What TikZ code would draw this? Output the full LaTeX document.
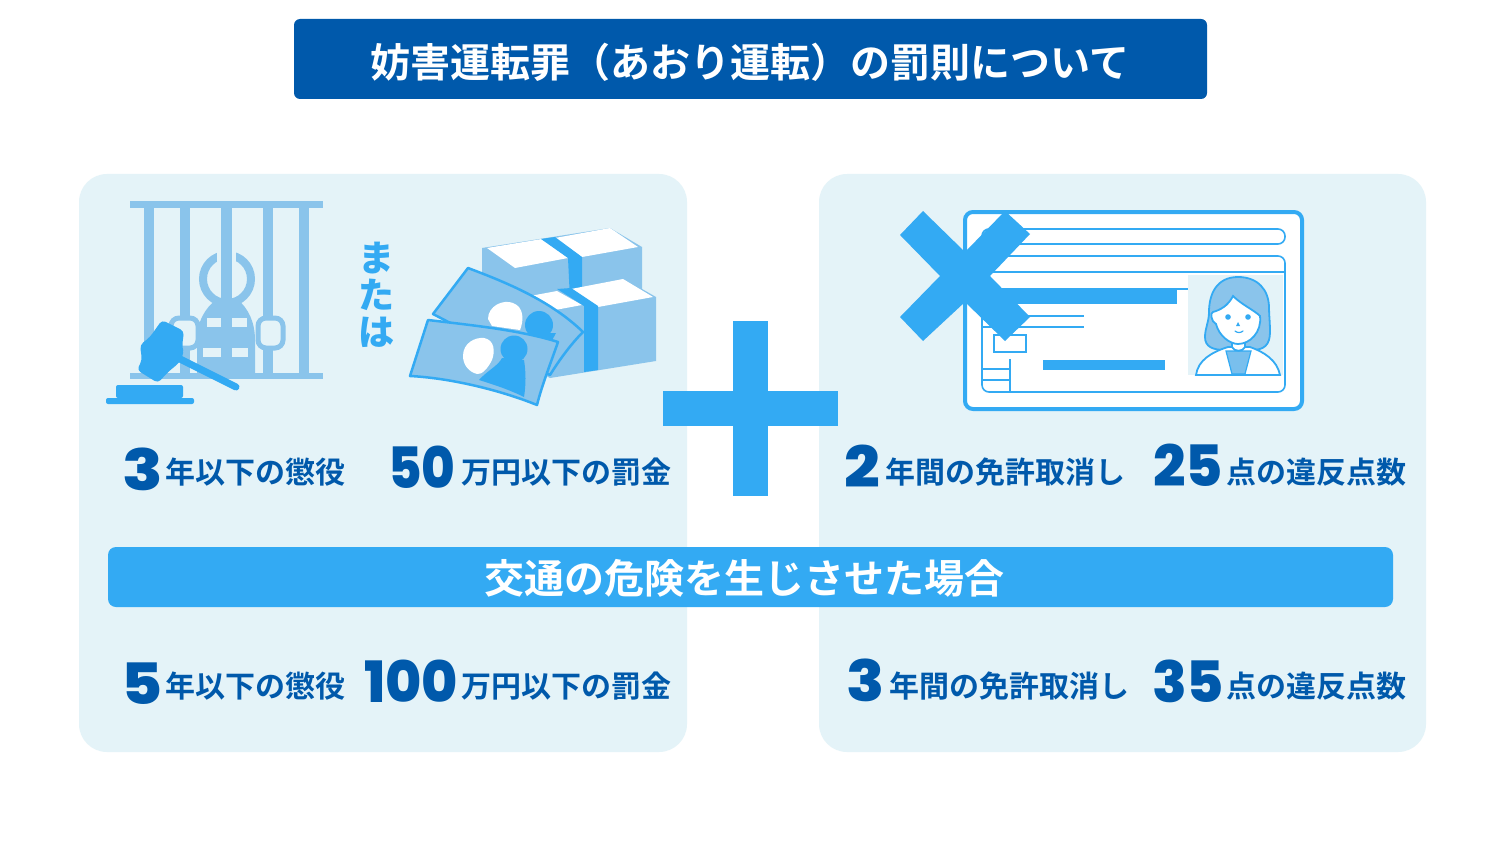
\documentclass[tikz,border=0pt]{standalone}
\usepackage{fontspec}
\newfontfamily\cjk{Noto Sans CJK JP}[BoldFont={Noto Sans CJK JP Bold}]
\newfontfamily\cjkheavy{Noto Sans CJK JP Black}
\newfontfamily\numfont{Poppins}[BoldFont={Poppins ExtraBold}]
\definecolor{navy}{HTML}{0059AB}
\definecolor{sky}{HTML}{33AAF3}
\definecolor{pale}{HTML}{8AC4EB}
\definecolor{panel}{HTML}{E4F3F8}
\newcommand{\widenum}[2]{\scalebox{#1}[1]{#2}}
\tikzset{
	label/.style={inner sep=0,anchor=base west,text=navy,font=\cjk\bfseries\fontsize{30}{30}\selectfont},
	num/.style={inner sep=0,anchor=base west,text=navy,font=\numfont\bfseries\fontsize{57}{57}\selectfont},
	head/.style={inner sep=0,text=white,font=\cjk\bfseries\fontsize{40}{40}\selectfont},
	vert/.style={inner sep=0,text=sky,font=\cjkheavy\fontsize{36}{36}\selectfont},
	thin line/.style={draw=sky,line width=1.6}
}
\begin{document}
\begin{tikzpicture}[x=1pt,y=-1pt]
\useasboundingbox (0,0) rectangle (1501,845);
\fill[white] (0,0) rectangle (1501,845);
\fill[navy,rounded corners=6] (294,19) rectangle (1207,99);
\node[head] (title) at (750,62) {妨害運転罪（あおり運転）の罰則について};
\fill[panel,rounded corners=28] (79,174) rectangle (687,752);
\fill[panel,rounded corners=28] (819,174) rectangle (1426,752);
\fill[sky] (733,321) rectangle (768,496);
\fill[sky] (663,391) rectangle (838,426);
\fill[sky,rounded corners=8] (108,547) rectangle (1393,607);
\node[head] (band) at (744,578) {交通の危険を生じさせた場合};
% jail
\fill[pale] (130,201) rectangle (323,208);
\fill[pale] (130,373) rectangle (323,379);
\foreach \barx in {144,180,263,299}
	\fill[pale] (\barx,201) rectangle (\barx+10,379);
\draw[pale,line width=8] (227,279) circle (24);
\fill[pale] (216,300) .. controls (205,308) and (197,322) .. (197,340) -- (197,373) -- (255,373) -- (255,340)
	.. controls (255,322) and (248,308) .. (238,300) -- cycle;
\fill[panel] (207,318) rectangle (247,327);
\fill[panel] (203,348) rectangle (248,357);
\draw[pale,line width=5,fill=panel,rounded corners=8] (171,318) rectangle (198,348);
\draw[pale,line width=5,fill=panel,rounded corners=8] (258,318) rectangle (283,348);
\fill[panel] (217,240) rectangle (236,262);
\fill[pale] (221,201) rectangle (232,379);
% gavel
\fill[sky,rounded corners=2] (106,398) rectangle (194,404);
\fill[sky,rounded corners=2] (116,385) rectangle (183,398);
\draw[sky,line width=7,line cap=round] (178,358) -- (236,387);
\fill[sky,rounded corners=4] (162,320) -- (184,331) -- (182,347) -- (184,353) -- (179,363) -- (168,372)
	-- (158,383) -- (137,370) -- (142,360) -- (140,345) -- (150,337) -- cycle;
% money
\fill[pale] (482,248) -- (610,228) -- (642,247) -- (642,320) -- (482,340) -- cycle;
\fill[white] (487,248) -- (542,239) -- (568,258) -- (515,268) -- cycle;
\fill[white] (555,238) -- (610,228) -- (638,247) -- (582,257) -- cycle;
\fill[sky] (541,239) -- (555,237) -- (582,257) -- (582,300) -- (570,300) -- (568,258) -- cycle;
\fill[pale] (530,300) -- (623,278) -- (656,297) -- (656,361) -- (550,378) -- (500,350) -- cycle;
\fill[white] (530,296) -- (557,291) -- (582,305) -- (555,310) -- cycle;
\fill[white] (571,289) -- (623,279) -- (653,297) -- (598,307) -- cycle;
\fill[sky] (557,289) -- (571,288) -- (598,306) -- (598,370) -- (584,372) -- (584,306) -- cycle;
\draw[sky,line width=2.5,fill=pale,line join=round] (468,268) .. controls (505,282) and (550,300) .. (583,332)
	.. controls (570,345) and (558,362) .. (550,375) -- (433,314) -- cycle;
\fill[white] (488,319) .. controls (488,306) and (503,299) .. (513,303) .. controls (524,307) and (524,320) .. (520,330)
	-- (492,326) -- cycle;
\fill[sky] (539,325) circle (14);
\fill[sky] (518,334) -- (556,333) -- (548,348) -- (525,345) -- cycle;
\draw[sky,line width=2.5,fill=pale,line join=round] (428,320) .. controls (470,325) and (520,330) .. (558,342)
	.. controls (550,365) and (542,385) .. (537,405) .. controls (500,390) and (450,378) .. (410,376) -- cycle;
\fill[white] (463,356) .. controls (463,343) and (475,337) .. (484,338) .. controls (495,340) and (495,352) .. (492,360)
	.. controls (488,368) and (482,375) .. (477,374) .. controls (469,372) and (463,365) .. (463,356) -- cycle;
\fill[sky] (514,349) circle (13.5);
\fill[sky] (479,380) .. controls (488,370) and (498,366) .. (502,358) -- (524,360)
	.. controls (526,372) and (526,385) .. (524,397) .. controls (510,390) and (495,385) .. (479,380) -- cycle;
\node[vert] (mata) at (376,258) {ま};
\node[vert] (ta) at (376,295) {た};
\node[vert] (ha) at (376,332) {は};
% card
\draw[sky,line width=4,fill=white,rounded corners=8] (965,212) rectangle (1302,409);
\draw[thin line,rounded corners=7] (982,229) rectangle (1285,244);
\draw[thin line,rounded corners=7] (982,256) rectangle (1285,392);
\draw[thin line] (982,272) -- (1285,272);
\fill[panel] (1188,275) rectangle (1283,375);
\fill[sky] (982,288) rectangle (1177,304);
\draw[thin line] (1177,289) -- (1188,289);
\draw[sky,line width=2.2] (982,316) -- (1084,316);
\draw[sky,line width=2.2] (982,327) -- (1084,327);
\draw[thin line] (994,335) rectangle (1026,352);
\fill[sky] (1043,360) rectangle (1165,370);
\draw[thin line] (1010,359) -- (1010,392);
\draw[thin line] (982,369) -- (1010,369);
\draw[thin line] (982,380) -- (1010,380);
% face
\draw[sky,line width=1.8,fill=pale] (1238,277) .. controls (1216,277) and (1209,295) .. (1209,312)
	.. controls (1209,322) and (1205,328) .. (1205,337) .. controls (1205,347) and (1213,350) .. (1225,350)
	-- (1252,350) .. controls (1264,350) and (1270,345) .. (1270,332)
	.. controls (1270,322) and (1269,315) .. (1269,308) .. controls (1269,290) and (1258,277) .. (1238,277) -- cycle;
\draw[sky,line width=1.8,fill=white] (1196,375) .. controls (1198,360) and (1212,352) .. (1228,347)
	-- (1250,347) .. controls (1264,352) and (1277,360) .. (1280,375) -- cycle;
\draw[sky,line width=1.2,fill=pale!80!sky] (1226,351) -- (1251,351) -- (1245,374) -- (1232,374) -- cycle;
\draw[sky,line width=1.8,fill=white] (1232,338) -- (1232,347) .. controls (1234,352) and (1243,352) .. (1245,347) -- (1245,338);
\draw[sky,line width=1.8,fill=white] (1233,296) .. controls (1228,306) and (1220,310) .. (1213,312)
	.. controls (1210,312) and (1211,322) .. (1216,324)
	.. controls (1219,336) and (1230,344) .. (1238,344)
	.. controls (1250,344) and (1262,332) .. (1260,316)
	.. controls (1254,310) and (1242,305) .. (1233,296) -- cycle;
\fill[sky] (1228,317) circle (2.8);
\fill[sky] (1248,317) circle (2.8);
\fill[sky] (1238,322) -- (1240,326) -- (1236,326) -- cycle;
\draw[sky,line width=1.2,line cap=round] (1235,331) .. controls (1237,333) and (1241,333) .. (1243,331);
\fill[sky] (923,211) -- (965,252) -- (1005,211) -- (1030,234) -- (990,276) -- (1030,317) -- (1005,341)
	-- (965,302) -- (923,341) -- (900,317) -- (940,276) -- (900,235) -- cycle;
% texts
\node[num] (a1) at (122,490) {\widenum{1.17}{3}};
\node[label] (a2) at (165,483) {年以下の懲役};
\node[num] (b1) at (388,488) {\widenum{0.9}{50}};
\node[label] (b2) at (461,483) {万円以下の罰金};
\node[num] (c1) at (844,487) {\widenum{1.1}{2}};
\node[label] (c2) at (885,483) {年間の免許取消し};
\node[num] (d1) at (1153,486) {25};
\node[label] (d2) at (1226,483) {点の違反点数};
\node[num] (e1) at (121,704) {\widenum{1.1}{5}};
\node[label] (e2) at (165,697) {年以下の懲役};
\node[num] (f1) at (364,702) {\widenum{0.97}{100}};
\node[label] (f2) at (461,697) {万円以下の罰金};
\node[num] (g1) at (846,701) {\widenum{1.1}{3}};
\node[label] (g2) at (889,697) {年間の免許取消し};
\node[num] (h1) at (1152,702) {35};
\node[label] (h2) at (1226,697) {点の違反点数};
\end{tikzpicture}
\end{document}
